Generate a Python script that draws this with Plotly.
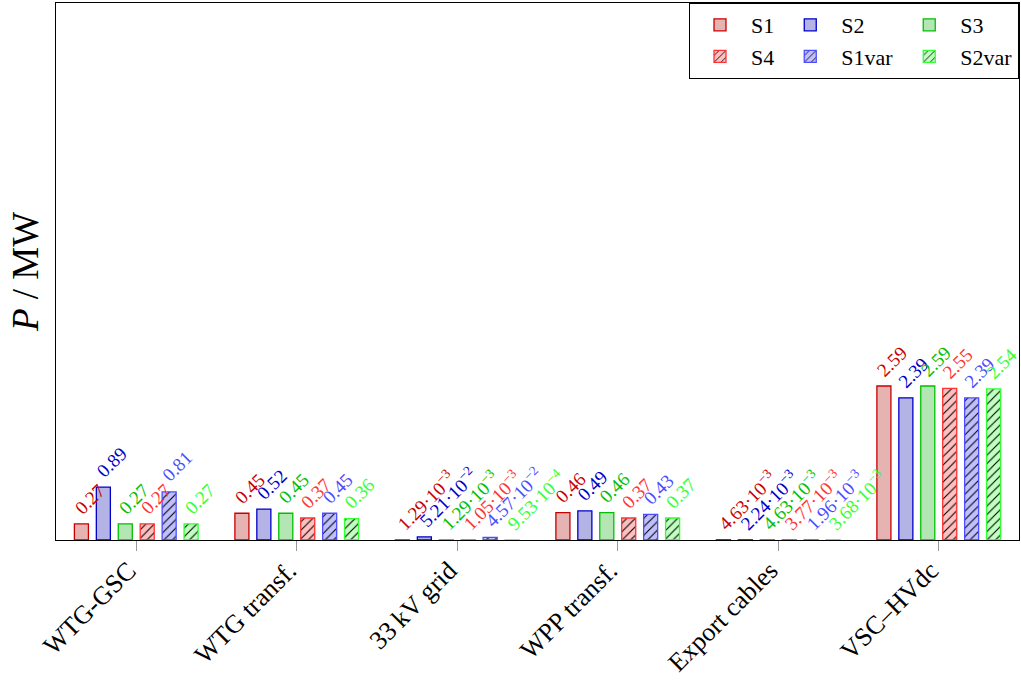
import plotly.graph_objects as go

categories = ["WTG-GSC", "WTG transf.", "33\u2009kV grid", "WPP transf.", "Export cables", "VSC\u2013HVdc"]

s1 = [0.27, 0.45, 1.29e-3, 0.46, 4.63e-3, 2.59]
s2 = [0.89, 0.52, 5.21e-2, 0.49, 2.24e-3, 2.39]
s3 = [0.27, 0.45, 1.29e-3, 0.46, 4.63e-3, 2.59]
s4 = [0.27, 0.37, 1.05e-3, 0.37, 3.77e-3, 2.55]
s1var = [0.81, 0.45, 4.57e-2, 0.43, 1.96e-3, 2.39]
s2var = [0.27, 0.36, 9.53e-4, 0.37, 3.68e-3, 2.54]

series_names = ["S1", "S2", "S3", "S4", "S1var", "S2var"]
series_values = [s1, s2, s3, s4, s1var, s2var]
fill_colors = ["#e6b3b3", "#b3b3e6", "#b3e6b3", "#ffbfbf", "#bfbfff", "#bfffbf"]
edge_colors = ["#c80000", "#0000c8", "#00c000", "#ff3333", "#4d4dff", "#33ff33"]
hatched = [False, False, False, True, True, True]
legend_groups = ["a", "b", "c", "a", "b", "c"]

BARGAP = 0.18
BARGROUPGAP = 0.36


def fmt(v):
    if v >= 0.1:
        return f"{v:.2f}"
    s = f"{v:.2e}"
    mant, exp = s.split("e")
    return f"{mant}\u00b710<sup>\u2212{int(exp[1:])}</sup>"


fig = go.Figure()
n = len(series_names)
slot = (1 - BARGAP) / n
for i, (name, vals, fc, ec, h, lg) in enumerate(zip(series_names, series_values, fill_colors, edge_colors, hatched, legend_groups)):
    marker = dict(color=fc, line=dict(color=ec, width=1.3))
    if h:
        marker["pattern"] = dict(shape="/", fgcolor="black", bgcolor=fc, size=6, solidity=0.18, fillmode="replace")
    fig.add_trace(go.Bar(
        x=categories, y=vals, name=name, marker=marker, legendgroup=lg,
    ))
    off = (i - (n - 1) / 2) * slot
    for j, v in enumerate(vals):
        fig.add_annotation(
            x=j + off, y=v, xref="x", yref="y", text=fmt(v), showarrow=False,
            textangle=-45, xanchor="left", yanchor="bottom", xshift=-14, yshift=3,
            font=dict(color=ec, size=19, family="Liberation Serif"),
        )

fig.update_layout(
    width=1021, height=686,
    margin=dict(l=56, r=2, t=3, b=146),
    paper_bgcolor="white", plot_bgcolor="white",
    barmode="group", bargap=BARGAP, bargroupgap=BARGROUPGAP,
    font=dict(family="Liberation Serif", color="black"),
    showlegend=True,
    legend=dict(
        orientation="h", x=1, xanchor="right", y=1, yanchor="top",
        bordercolor="black", borderwidth=1, bgcolor="white",
        font=dict(size=22), tracegroupgap=10, itemwidth=52,
    ),
)
fig.update_xaxes(
    showline=True, linecolor="black", linewidth=1, mirror=True,
    ticks="outside", ticklen=10, tickcolor="#999999", tickangle=-45,
    tickfont=dict(size=26), showgrid=False, range=[-0.5, 5.5], automargin=False,
    ticklabelshift=-8, ticklabelstandoff=-6,
)
fig.update_yaxes(
    showline=True, linecolor="black", linewidth=1, mirror=True, automargin=False,
    range=[0, 9.03], showticklabels=False, ticks="", showgrid=False, zeroline=False,
    title=dict(text="<i>P</i> / MW", font=dict(size=37), standoff=5),
)

fig.write_html("out.html")
